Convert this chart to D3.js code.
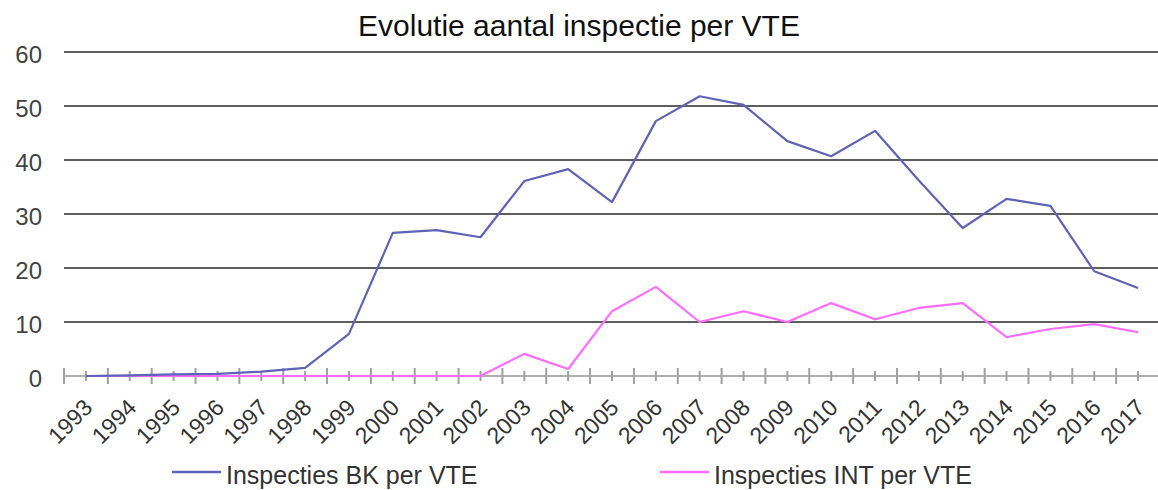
<!DOCTYPE html>
<html>
<head>
<meta charset="utf-8">
<script src="https://cdn.jsdelivr.net/npm/d3@7"></script>
<style>
    body {margin:0; background:#fff;}
    svg text {font-family: "Liberation Sans", Arial, Helvetica, sans-serif;}
</style>
</head>
<body>
<svg id="chart"></svg>
<script>
// categories and series
const years = ['1993','1994','1995','1996','1997','1998','1999','2000','2001','2002','2003','2004','2005',
    '2006','2007','2008','2009','2010','2011','2012','2013','2014','2015','2016','2017'];
const bkPerVTE = [0, 0.1, 0.3, 0.4, 0.8, 1.5, 7.8, 26.5, 27.0, 25.7, 36.1, 38.3, 32.2,
    47.2, 51.8, 50.2, 43.5, 40.7, 45.4, 36.2, 27.4, 32.8, 31.5, 19.4, 16.3];
const intPerVTE = [0, 0, 0, 0, 0, 0, 0, 0, 0, 0, 4.1, 1.3, 12.0,
    16.5, 10.0, 12.0, 10.0, 13.5, 10.5, 12.6, 13.5, 7.2, 8.7, 9.6, 8.1];
const yTicks = [0, 10, 20, 30, 40, 50, 60];
const seriesNames = ['Inspecties BK per VTE', 'Inspecties INT per VTE'];
const chartTitle = 'Evolutie aantal inspectie per VTE';

let graphicopt = {
    width: 1158,
    height: 490,
    left: 64,
    right: 1160,
    top: 52,
    bottom: 376,
    color: {bk: '#5f63b6', int: '#ff6cff'},
};

const svg = d3.select('#chart')
    .attr('width', graphicopt.width)
    .attr('height', graphicopt.height);

const xscale = d3.scaleBand().domain(years).range([graphicopt.left, graphicopt.right]);
const yscale = d3.scaleLinear().domain([0, 60]).range([graphicopt.bottom, graphicopt.top]);
const xc = d => xscale(d) + xscale.bandwidth() / 2;

// title
svg.append('text')
    .attr('x', graphicopt.width / 2)
    .attr('y', 36)
    .attr('text-anchor', 'middle')
    .style('font-size', '30px')
    .style('fill', '#111')
    .text(chartTitle);

// gridlines
svg.append('g').attr('class', 'grid')
    .selectAll('line').data(yTicks.filter(d => d > 0))
    .join('line')
    .attr('x1', graphicopt.left)
    .attr('x2', graphicopt.right)
    .attr('y1', d => yscale(d))
    .attr('y2', d => yscale(d))
    .attr('stroke', '#5e5e5e')
    .attr('stroke-width', 2);

// y axis labels
const yAxis = svg.append('g')
    .attr('transform', `translate(${graphicopt.left - 22},0)`)
    .call(d3.axisLeft(yscale).tickValues(yTicks).tickSize(0).tickPadding(0));
yAxis.select('.domain').remove();
yAxis.selectAll('text')
    .attr('dy', '0.42em')
    .style('font-size', '24px')
    .style('font-family', '"Liberation Sans", Arial, sans-serif')
    .style('fill', '#444');

// x axis: base line, boundary ticks and centre ticks
const xAxis = svg.append('g').attr('class', 'xaxis');
xAxis.append('line')
    .attr('x1', graphicopt.left)
    .attr('x2', graphicopt.right)
    .attr('y1', yscale(0))
    .attr('y2', yscale(0))
    .attr('stroke', '#b0b0b0')
    .attr('stroke-width', 2);
xAxis.selectAll('line.major').data(years)
    .join('line')
    .attr('class', 'major')
    .attr('x1', d => xscale(d))
    .attr('x2', d => xscale(d))
    .attr('y1', yscale(0) - 8)
    .attr('y2', yscale(0) + 8)
    .attr('stroke', '#a0a0a0')
    .attr('stroke-width', 2);
xAxis.selectAll('line.minor').data(years)
    .join('line')
    .attr('class', 'minor')
    .attr('x1', d => xc(d))
    .attr('x2', d => xc(d))
    .attr('y1', yscale(0) - 5)
    .attr('y2', yscale(0) + 5)
    .attr('stroke', '#a0a0a0')
    .attr('stroke-width', 2);
xAxis.selectAll('text').data(years)
    .join('text')
    .attr('transform', d => `translate(${xc(d) + 8},${yscale(0) + 33}) rotate(-45)`)
    .attr('text-anchor', 'end')
    .style('font-size', '23px')
    .style('fill', '#333')
    .text(d => d);

// lines
const line = d3.line().x((d, i) => xc(years[i])).y(d => yscale(d));
const series = [
    {key: 'int', values: intPerVTE},
    {key: 'bk', values: bkPerVTE},
];
svg.append('g').attr('class', 'lines')
    .selectAll('path').data(series)
    .join('path')
    .attr('d', d => line(d.values))
    .attr('fill', 'none')
    .attr('stroke', d => graphicopt.color[d.key])
    .attr('stroke-width', 2.2)
    .attr('stroke-linejoin', 'round');

// legend
const legendItems = [
    {key: 'bk', name: seriesNames[0], x: 172},
    {key: 'int', name: seriesNames[1], x: 660},
];
const legend = svg.append('g').attr('class', 'legend')
    .selectAll('g').data(legendItems)
    .join('g')
    .attr('transform', d => `translate(${d.x},472)`);
legend.append('line')
    .attr('x1', 0).attr('x2', 49)
    .attr('stroke', d => graphicopt.color[d.key])
    .attr('stroke-width', 2.5);
legend.append('text')
    .attr('x', 54)
    .attr('y', 12)
    .style('font-size', '25px')
    .style('fill', '#333')
    .text(d => d.name);
</script>
</body>
</html>
